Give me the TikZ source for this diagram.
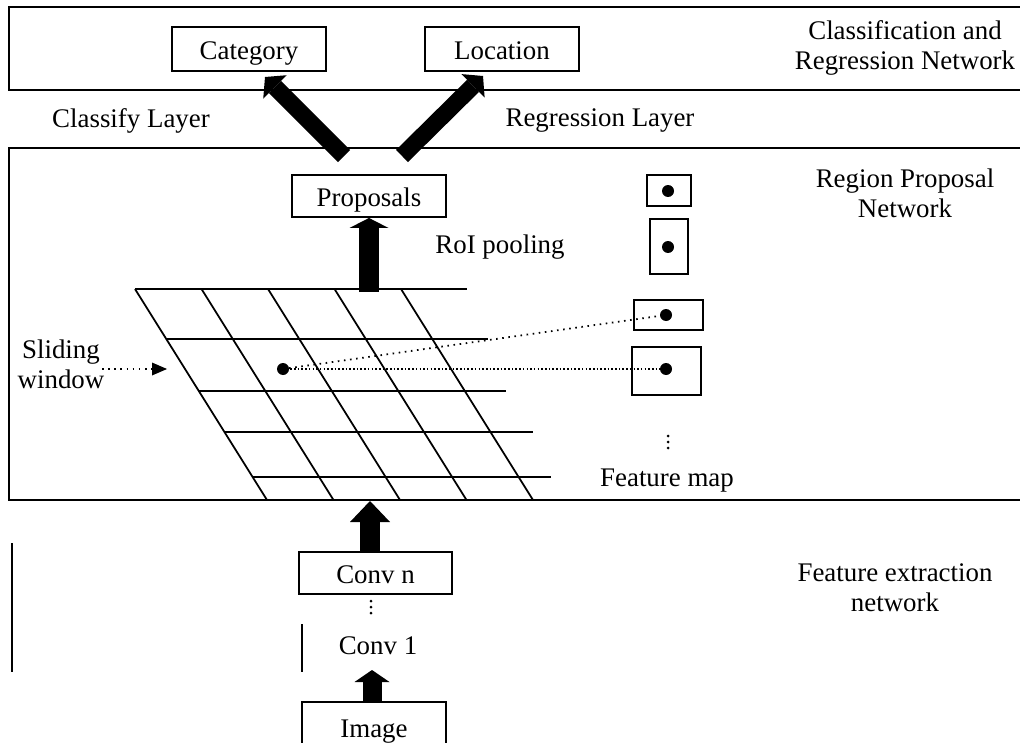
\documentclass[tikz,border=0pt]{standalone}
\usepackage{fontspec}
\setmainfont{Liberation Serif}
\usetikzlibrary{arrows.meta}
\newcommand\labfont{\fontsize{15.3}{17}\selectfont}
\tikzset{
  frame/.style={draw, line width=1.1pt},
  box/.style={draw, line width=1.1pt, inner sep=0pt, font=\labfont, text height=12.5pt, text depth=0.6pt},
  wh/.style 2 args={minimum width=#1*0.02cm, minimum height=#2*0.02cm},
  lbl/.style={inner sep=0pt, align=center, font=\labfont},
  gridline/.style={line width=1pt},
  dotc/.style={circle, fill=black, inner sep=0pt, minimum size=0.24cm},
  smalldot/.style={circle, fill=black, inner sep=0pt, minimum size=0.06cm},
  dotline/.style={line width=1pt, dash pattern=on 0.9pt off 2.6pt},
  densedotline/.style={line width=1pt, dash pattern=on 0.9pt off 1.2pt},
  uparrowA/.style={line width=0.4cm, -{Triangle[width=0.78cm,length=0.2cm,line width=0pt]}},
  uparrowB/.style={line width=0.4cm, -{Triangle[width=0.8cm,length=0.42cm,line width=0pt]}},
  uparrowC/.style={line width=0.38cm, -{Triangle[width=0.7cm,length=0.24cm,line width=0pt]}},
  diagarrow/.style={line width=0.34cm, -{Triangle[width=0.66cm,length=0.28cm,line width=0pt]}},
  slidearrow/.style={dotline, -{Triangle[width=0.26cm,length=0.3cm,line width=0pt]}}
}
\begin{document}
\begin{tikzpicture}[x=0.02cm,y=-0.02cm]
\useasboundingbox (0,0) rectangle (1020,743);
% section frames
\draw[frame] (9,7) rectangle (1030,90);
\draw[frame] (9,148) rectangle (1030,500);
\draw[frame] (12,543) -- (12,672);
\draw[frame] (302,624) -- (302,672);

% boxes
\node[box,wh={154}{44}] (cat) at (249,49) {Category};
\node[box,wh={154}{44}] (loc) at (502,49) {Location};
\node[box,wh={154}{42}] (prop) at (369,196) {Proposals};
\node[box,wh={153}{42}] (convn) at (375.5,573) {Conv n};
\node[box,wh={144}{50}] (img) at (374,727) {Image};

% labels
\node[lbl] (crn) at (905,48) {Classification and\\Regression Network};
\node[lbl] (cll) at (131,121) {Classify Layer};
\node[lbl] (rgl) at (600,121) {Regression Layer};
\node[lbl] (rpn) at (905,193) {Region Proposal\\Network};
\node[lbl] (roi) at (500,247) {RoI pooling};
\node[lbl] (sw) at (61,364) {Sliding\\window};
\node[lbl] (fm) at (667,481) {Feature map};
\node[lbl] (fen) at (895,588) {Feature extraction\\network};
\node[lbl] (c1) at (378,646) {Conv 1};

% feature map grid
\foreach \i in {0,...,4}
  \draw[gridline] (135+66.5*\i,289) -- (267+66.5*\i,500);
\draw[gridline] (135,289) -- (467,289);
\draw[gridline] (166.3,339) -- (488,339);
\draw[gridline] (198.8,391) -- (506,391);
\draw[gridline] (224.5,432) -- (533,432);
\draw[gridline] (252.6,477) -- (551,477);

% anchor boxes
\node[box,wh={44}{31}] (r1) at (669,190.5) {};
\node[box,wh={38}{55}] (r2) at (669,246.5) {};
\node[box,wh={69}{30}] (r3) at (668.5,315) {};
\node[box,wh={69}{48}] (r4) at (666.5,371) {};
\node[dotc] (d1) at (668,191) {};
\node[dotc] (d2) at (668,247) {};
\node[dotc] (d3) at (666,315) {};
\node[dotc] (d4) at (666,369) {};
\node[dotc] (d0) at (283,369) {};

% vertical dots
\node[smalldot] (va1) at (668,436) {};
\node[smalldot] (va2) at (668,442) {};
\node[smalldot] (va3) at (668,448) {};
\node[smalldot] (vb1) at (371,601) {};
\node[smalldot] (vb2) at (371,607) {};
\node[smalldot] (vb3) at (371,613) {};

% dotted connectors
\draw[dotline] (d0.center) -- (d3.center);
\draw[densedotline] (d0.center) -- (d4.center);
\coordinate (swt) at (167,369);
\draw[slidearrow] (102,369) -- (swt);

% thick arrows
\coordinate (ls) at (344,156);
\coordinate (lt) at (265,77);
\coordinate (rs) at (402,156);
\coordinate (rt) at (483,76);
\draw[diagarrow] (ls) -- (lt);
\draw[diagarrow] (rs) -- (rt);
\coordinate (gt) at (369,292);
\draw[uparrowA] (gt) -- (prop.south);
\coordinate (fmb) at (370,501);
\draw[uparrowB] (fmb |- convn.north) -- (fmb);
\coordinate (c1b) at (372,670);
\draw[uparrowC] (img.north -| c1b) -- (c1b);
\end{tikzpicture}
\end{document}
